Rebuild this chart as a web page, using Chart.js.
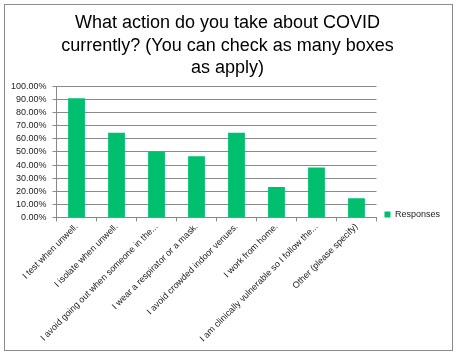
<!DOCTYPE html>
<html>
<head>
<meta charset="utf-8">
<script src="https://cdn.jsdelivr.net/npm/chart.js@4.4.0/dist/chart.umd.min.js"></script>
<style>
  html, body { margin: 0; padding: 0; background: #fff; }
  #box { position: absolute; left: 4px; top: 4px; width: 447px; height: 345px; border: 1px solid #8c8c8c; background: #fff; }
  canvas { display: block; }
</style>
</head>
<body>
<div id="box"><canvas id="c" width="447" height="345"></canvas></div>
<script>
const categories = [
  "I test when unwell.",
  "I isolate when unwell.",
  "I avoid going out when someone in the...",
  "I wear a respirator or a mask.",
  "I avoid crowded indoor venues.",
  "I work from home.",
  "I am clinically vulnerable so I follow the...",
  "Other (please specify)"
];
const responses = [91.1, 64.7, 50.1, 46.8, 64.7, 23.3, 38.1, 14.6];
const seriesName = "Responses";
const titleLines = ["What action do you take about COVID", "currently? (You can check as many boxes", "as apply)"];

const labelFont = { family: "'Liberation Sans', Arial, sans-serif", size: 9 };

new Chart(document.getElementById('c'), {
  type: 'bar',
  data: {
    labels: categories,
    datasets: [{
      label: seriesName,
      data: responses,
      backgroundColor: '#00BF6F',
      borderWidth: 0,
      barPercentage: 0.42,
      categoryPercentage: 1.0
    }]
  },
  options: {
    responsive: false,
    animation: false,
    devicePixelRatio: 1,
    layout: { padding: { left: 0, right: 2, top: 5, bottom: 6 } },
    plugins: {
      title: {
        display: true,
        text: titleLines,
        color: '#000',
        font: { family: "'Liberation Sans', Arial, sans-serif", size: 18, weight: 'normal', lineHeight: 1.25 },
        padding: { top: 2, bottom: 7 }
      },
      legend: {
        position: 'right',
        align: 'center',
        title: { display: true, text: '', padding: { top: 0, bottom: 74 }, font: { size: 1 } },
        labels: {
          boxWidth: 6,
          boxHeight: 6,
          padding: 8,
          color: '#222',
          font: labelFont
        }
      },
      tooltip: { enabled: false }
    },
    scales: {
      x: {
        grid: { display: true, drawOnChartArea: false, offset: true, color: '#888', tickLength: 4 },
        border: { color: '#888' },
        ticks: { color: '#222', font: labelFont, maxRotation: 45, minRotation: 45, autoSkip: false, padding: 0 }
      },
      y: {
        min: 0, max: 100,
        grid: { color: '#8a8a8a', tickLength: 4 },
        border: { color: '#888' },
        ticks: {
          stepSize: 10, autoSkip: false, color: '#222', font: labelFont, padding: 6,
          callback: v => v.toFixed(2) + '%'
        }
      }
    }
  }
});
</script>
</body>
</html>
